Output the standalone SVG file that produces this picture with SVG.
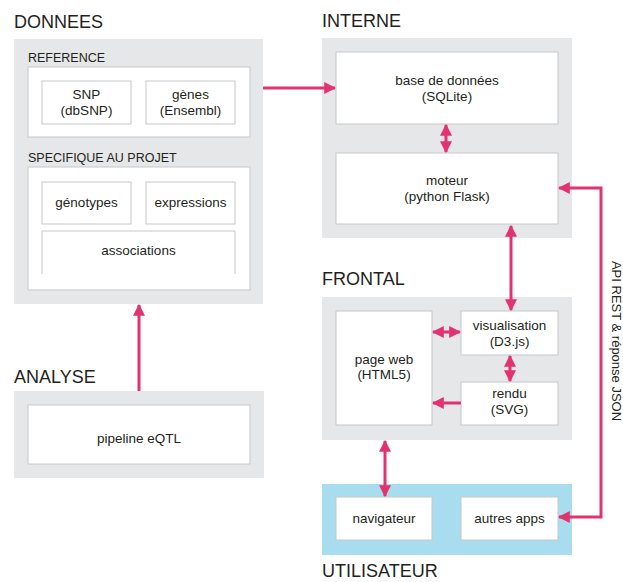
<svg xmlns="http://www.w3.org/2000/svg" width="623" height="582" viewBox="0 0 623 582">
<style>
.title{font-family:"Liberation Sans",Arial,sans-serif;font-size:18px;fill:#231f20}
.sub{font-family:"Liberation Sans",Arial,sans-serif;font-size:12.5px;fill:#231f20}
.lbl{font-family:"Liberation Sans",Arial,sans-serif;font-size:13.5px;fill:#231f20;text-anchor:middle}
.grp{fill:#e6e7e8}
.blue{fill:#a8ddf0}
.box{fill:#ffffff;stroke:#c6c7c9;stroke-width:1}
.con{fill:none;stroke:#e2336f;stroke-width:3}
</style>
<defs>
<marker id="ah" viewBox="0 0 10 10" refX="9" refY="5" markerWidth="12" markerHeight="12" orient="auto-start-reverse" markerUnits="userSpaceOnUse">
<path d="M0,0 L10,5 L0,10 z" fill="#e2336f"/>
</marker>
</defs>
<rect width="623" height="582" fill="#ffffff"/>

<g id="donnees">
<text class="title" x="14" y="28">DONNEES</text>
<rect class="grp" x="14" y="39" width="249" height="265"/>
<text class="sub" x="28" y="62">REFERENCE</text>
<rect class="box" x="28" y="67" width="222" height="70"/>
<text class="sub" x="28" y="162">SPECIFIQUE AU PROJET</text>
<rect class="box" x="28" y="167" width="222" height="123"/>
</g>
<g id="snp">
<rect class="box" x="42" y="81" width="89" height="43"/>
<text class="lbl" x="86.5" y="99">SNP</text>
<text class="lbl" x="86.5" y="115">(dbSNP)</text>
</g>
<g id="genes">
<rect class="box" x="146" y="81" width="89" height="43"/>
<text class="lbl" x="190.5" y="99">gènes</text>
<text class="lbl" x="190.5" y="115">(Ensembl)</text>
</g>
<g id="genotypes">
<rect class="box" x="42" y="182" width="89" height="42"/>
<text class="lbl" x="86.5" y="207">génotypes</text>
</g>
<g id="expressions">
<rect class="box" x="146" y="182" width="89" height="42"/>
<text class="lbl" x="190.5" y="207">expressions</text>
</g>
<g id="associations">
<rect x="42" y="231" width="193" height="43" fill="#ffffff"/>
<path d="M42,274 V231 H235 V274" fill="none" stroke="#c6c7c9" stroke-width="1"/>
<text class="lbl" x="138.5" y="255">associations</text>
</g>

<g id="analyse">
<text class="title" x="14" y="383">ANALYSE</text>
<rect class="grp" x="14" y="391" width="250" height="87"/>
</g>
<g id="pipeline">
<rect class="box" x="28" y="405" width="222" height="59"/>
<text class="lbl" x="139" y="443">pipeline eQTL</text>
</g>

<g id="interne">
<text class="title" x="322" y="27">INTERNE</text>
<rect class="grp" x="322" y="38" width="250" height="200"/>
</g>
<g id="base">
<rect class="box" x="336" y="52" width="222" height="72"/>
<text class="lbl" x="447" y="85">base de données</text>
<text class="lbl" x="447" y="101">(SQLite)</text>
</g>
<g id="moteur">
<rect class="box" x="336" y="153" width="222" height="71"/>
<text class="lbl" x="447" y="185">moteur</text>
<text class="lbl" x="447" y="201">(python Flask)</text>
</g>

<g id="frontal">
<text class="title" x="322" y="285">FRONTAL</text>
<rect class="grp" x="322" y="297" width="250" height="143"/>
</g>
<g id="pageweb">
<rect class="box" x="336" y="311" width="96" height="114"/>
<text class="lbl" x="384" y="364">page web</text>
<text class="lbl" x="384" y="379">(HTML5)</text>
</g>
<g id="visualisation">
<rect class="box" x="461" y="311" width="97" height="44"/>
<text class="lbl" x="509.5" y="330">visualisation</text>
<text class="lbl" x="509.5" y="346">(D3.js)</text>
</g>
<g id="rendu">
<rect class="box" x="461" y="382" width="97" height="43"/>
<text class="lbl" x="509.5" y="398">rendu</text>
<text class="lbl" x="509.5" y="414">(SVG)</text>
</g>

<g id="utilisateur">
<rect class="blue" x="322" y="484" width="250" height="71"/>
<text class="title" x="322" y="577">UTILISATEUR</text>
</g>
<g id="navigateur">
<rect class="box" x="336" y="497" width="96" height="43"/>
<text class="lbl" x="384" y="523">navigateur</text>
</g>
<g id="autres">
<rect class="box" x="461" y="497" width="97" height="43"/>
<text class="lbl" x="509.5" y="523">autres apps</text>
</g>

<g id="connectors">
<path class="con" d="M263,88 H335" marker-end="url(#ah)"/>
<path class="con" d="M139,391 V305" marker-end="url(#ah)"/>
<path class="con" d="M446,125 V152" marker-start="url(#ah)" marker-end="url(#ah)"/>
<path class="con" d="M511,226 V310" marker-start="url(#ah)" marker-end="url(#ah)"/>
<path class="con" d="M433,332 H460" marker-start="url(#ah)" marker-end="url(#ah)"/>
<path class="con" d="M510,356 V381" marker-start="url(#ah)" marker-end="url(#ah)"/>
<path class="con" d="M461,403 H433" marker-end="url(#ah)"/>
<path class="con" d="M385,441 V496" marker-start="url(#ah)" marker-end="url(#ah)"/>
<path class="con" d="M559,188 H601 V517 H559" marker-start="url(#ah)" marker-end="url(#ah)"/>
<text class="sub" transform="translate(612,341) rotate(90)" text-anchor="middle" style="font-size:13px">API REST &amp; réponse JSON</text>
</g>
</svg>
